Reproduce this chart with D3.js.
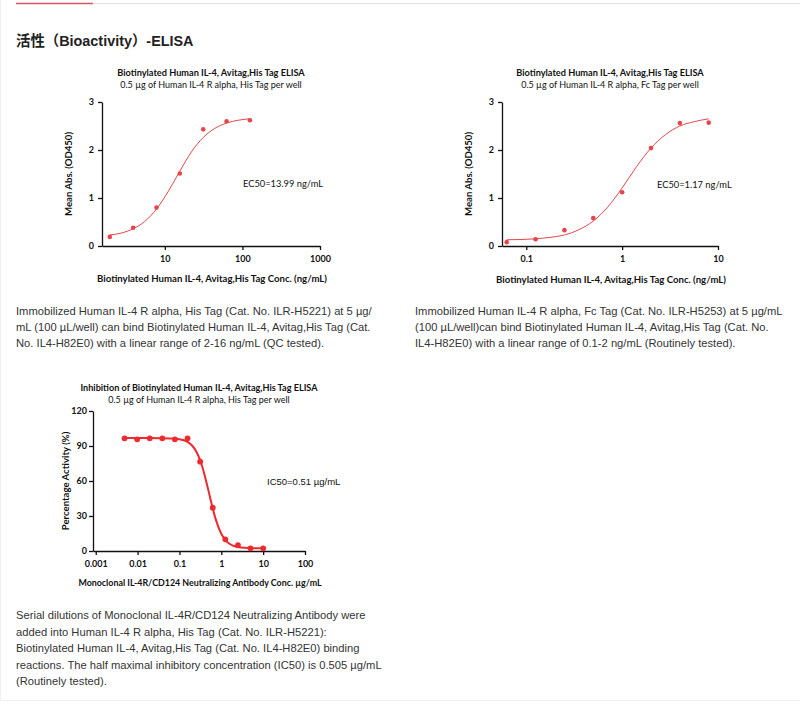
<!DOCTYPE html>
<html>
<head>
<meta charset="utf-8">
<script src="https://cdn.jsdelivr.net/npm/d3@7"></script>
<style>
  body { margin: 0; background: #fff; }
  svg { display: block; }
</style>
</head>
<body>
<svg width="800" height="707"></svg>
<script>
// ---- data ----
// chart 1: Human IL-4 R alpha, His Tag
const conc1 = [1.953, 3.906, 7.8125, 15.625, 31.25, 62.5, 125];
const od1 = [0.19, 0.38, 0.80, 1.51, 2.43, 2.60, 2.62];
const fitX1 = [1.953, 2.76, 3.906, 5.5, 7.8125, 11, 15.625, 22, 31.25, 44, 62.5, 88, 125];
const fitY1 = [0.23, 0.27, 0.36, 0.51, 0.77, 1.13, 1.56, 1.96, 2.26, 2.45, 2.56, 2.62, 2.65];

// chart 2: Human IL-4 R alpha, Fc Tag
const conc2 = [0.0625, 0.125, 0.25, 0.5, 1, 2, 4, 8];
const od2 = [0.08, 0.14, 0.33, 0.58, 1.12, 2.04, 2.56, 2.57];
const fitX2 = [0.0625, 0.088, 0.125, 0.177, 0.25, 0.354, 0.5, 0.707, 1, 1.41, 2, 2.83, 4, 5.66, 8];
const fitY2 = [0.13, 0.135, 0.15, 0.18, 0.23, 0.34, 0.52, 0.81, 1.21, 1.65, 2.04, 2.32, 2.50, 2.59, 2.65];

// chart 3: neutralizing antibody inhibition
const conc3 = [0.00488, 0.00977, 0.0195, 0.039, 0.078, 0.156, 0.3125, 0.625, 1.25, 2.5, 5, 10];
const act3 = [96.6, 95.7, 96.6, 96.6, 95.7, 96.6, 76.6, 37.1, 10.0, 5.1, 2.3, 2.3];
const fitX3 = [0.00488, 0.01, 0.02, 0.04, 0.08, 0.12, 0.16, 0.2, 0.25, 0.3, 0.35, 0.4, 0.45, 0.5,
               0.55, 0.6, 0.7, 0.8, 1.0, 1.25, 1.6, 2.0, 2.5, 3.5, 5, 7, 10];
const fitY3 = [96.8, 96.8, 96.8, 96.7, 96.3, 95.2, 93.3, 90.4, 85.5, 79.4, 72.4, 65.0, 57.7, 50.9,
               44.6, 39.0, 29.9, 23.2, 14.8, 9.4, 6.0, 4.3, 3.4, 2.7, 2.5, 2.4, 2.3];

const xTicks1 = [10, 100, 1000];
const xTicks2 = [0.1, 1, 10];
const xTicks3 = [0.001, 0.01, 0.1, 1, 10, 100];
const yTicksOD = [0, 1, 2, 3];
const yTicksAct = [0, 30, 60, 90, 120];

const para1 = ["Immobilized Human IL-4 R alpha, His Tag (Cat. No. ILR-H5221) at 5 µg/",
  "mL (100 µL/well) can bind Biotinylated Human IL-4, Avitag,His Tag (Cat.",
  "No. IL4-H82E0) with a linear range of 2-16 ng/mL (QC tested)."];
const para2 = ["Immobilized Human IL-4 R alpha, Fc Tag (Cat. No. ILR-H5253) at 5 µg/mL",
  "(100 µL/well)can bind Biotinylated Human IL-4, Avitag,His Tag (Cat. No.",
  "IL4-H82E0) with a linear range of 0.1-2 ng/mL (Routinely tested)."];
const para3 = ["Serial dilutions of Monoclonal IL-4R/CD124 Neutralizing Antibody were",
  "added into Human IL-4 R alpha, His Tag (Cat. No. ILR-H5221):",
  "Biotinylated Human IL-4, Avitag,His Tag (Cat. No. IL4-H82E0) binding",
  "reactions. The half maximal inhibitory concentration (IC50) is 0.505 µg/mL",
  "(Routinely tested)."];

const svg = d3.select("svg");
const chartFont = "Lato, 'Open Sans', sans-serif";
const bodyFont = "'Liberation Sans', Arial, sans-serif";

// page frame + header
svg.append("line").attr("x1", 16).attr("x2", 800).attr("y1", 3.5).attr("y2", 3.5)
  .attr("stroke", "#e2e2e2").attr("stroke-width", 1);
svg.append("line").attr("x1", 16).attr("x2", 93).attr("y1", 3.5).attr("y2", 3.5)
  .attr("stroke", "#d9566b").attr("stroke-width", 1.5);
svg.append("line").attr("x1", 0.5).attr("x2", 0.5).attr("y1", 0).attr("y2", 701)
  .attr("stroke", "#efefef");
svg.append("line").attr("x1", 0).attr("x2", 800).attr("y1", 700.5).attr("y2", 700.5)
  .attr("stroke", "#efefef");

svg.append("text").attr("x", 16).attr("y", 45.5)
  .style("font-family", "'Liberation Sans', Arial, 'Noto Sans CJK SC', sans-serif")
  .style("font-weight", "bold").style("font-size", "14.4px").attr("fill", "#222")
  .text("活性（Bioactivity）-ELISA");

function drawChart(cfg) {
  const g = svg.append("g");
  const x = d3.scaleLog().domain(cfg.xDomain).range(cfg.xRange);
  const y = d3.scaleLinear().domain(cfg.yDomain).range(cfg.yRange);
  const cx = (cfg.xRange[0] + cfg.xRange[1]) / 2;

  const xAxis = g.append("g")
    .attr("transform", `translate(0,${cfg.yRange[0]})`)
    .call(d3.axisBottom(x).tickValues(cfg.xTicks).tickSize(4).tickSizeOuter(0)
      .tickPadding(cfg.xPad).tickFormat(d => String(d)));
  const yAxis = g.append("g")
    .attr("transform", `translate(${cfg.xRange[0]},0)`)
    .call(d3.axisLeft(y).tickValues(cfg.yTicks).tickSize(4).tickSizeOuter(0)
      .tickPadding(cfg.yPad).tickFormat(d => String(d)));
  [xAxis, yAxis].forEach(a => {
    a.selectAll("path, line").attr("stroke", "#111").attr("stroke-width", 1.3);
    a.selectAll("text").style("font-family", chartFont).style("font-weight", "bold")
      .style("font-size", "9px").attr("fill", "#111");
  });

  // titles
  g.append("text").attr("x", cx).attr("y", cfg.titleY).attr("text-anchor", "middle")
    .style("font-family", chartFont).style("font-weight", "bold").style("font-size", cfg.titleSize)
    .attr("fill", "#111").text(cfg.title);
  g.append("text").attr("x", cx).attr("y", cfg.titleY + 12).attr("text-anchor", "middle")
    .style("font-family", chartFont).style("font-size", "9px")
    .attr("fill", "#111").text(cfg.subtitle);

  // axis labels
  g.append("text").attr("x", cx + 1).attr("y", cfg.xLabelY).attr("text-anchor", "middle")
    .style("font-family", chartFont).style("font-weight", "bold").style("font-size", cfg.xLabelSize)
    .attr("fill", "#111").text(cfg.xLabel);
  const ym = (cfg.yRange[0] + cfg.yRange[1]) / 2;
  g.append("text").attr("transform", `translate(${cfg.yLabelX},${ym}) rotate(-90)`)
    .attr("text-anchor", "middle")
    .style("font-family", chartFont).style("font-weight", "bold").style("font-size", "9.6px")
    .attr("fill", "#111").text(cfg.yLabel);

  // fitted curve
  const line = d3.line().x(d => x(d[0])).y(d => y(d[1])).curve(d3.curveMonotoneX);
  g.append("path").datum(d3.zip(cfg.fitX, cfg.fitY))
    .attr("fill", "none").attr("stroke", cfg.color).attr("stroke-width", cfg.lineW)
    .attr("d", line);

  // points
  g.selectAll("circle").data(d3.zip(cfg.xs, cfg.ys)).join("circle")
    .attr("cx", d => x(d[0])).attr("cy", d => y(d[1])).attr("r", cfg.r)
    .attr("fill", cfg.color);

  // annotation
  g.append("text").attr("x", cfg.noteX).attr("y", cfg.noteY)
    .style("font-family", cfg.noteFont).style("font-size", cfg.noteSize)
    .attr("fill", "#111").text(cfg.note);
}

drawChart({
  xDomain: [1.55, 1000], xRange: [102, 320], yDomain: [0, 3], yRange: [246, 102],
  xTicks: xTicks1, yTicks: yTicksOD, xPad: 6, yPad: 4,
  title: "Biotinylated Human IL-4, Avitag,His Tag ELISA", titleSize: "9.2px",
  subtitle: "0.5 µg of Human IL-4 R alpha, His Tag per well", titleY: 75.5,
  xLabel: "Biotinylated Human IL-4, Avitag,His Tag Conc. (ng/mL)", xLabelY: 281.5, xLabelSize: "9.6px",
  yLabel: "Mean Abs. (OD450)", yLabelX: 71.5,
  fitX: fitX1, fitY: fitY1, xs: conc1, ys: od1,
  color: "#e5454b", lineW: 1, r: 2.3,
  note: "EC50=13.99 ng/mL", noteX: 243, noteY: 186.5, noteFont: chartFont, noteSize: "9.3px"
});

drawChart({
  xDomain: [0.0558, 10], xRange: [502, 718], yDomain: [0, 3], yRange: [246, 102],
  xTicks: xTicks2, yTicks: yTicksOD, xPad: 6, yPad: 4,
  title: "Biotinylated Human IL-4, Avitag,His Tag ELISA", titleSize: "9.2px",
  subtitle: "0.5 µg of Human IL-4 R alpha, Fc Tag per well", titleY: 75.5,
  xLabel: "Biotinylated Human IL-4, Avitag,His Tag Conc. (ng/mL)", xLabelY: 282.5, xLabelSize: "9.6px",
  yLabel: "Mean Abs. (OD450)", yLabelX: 471.5,
  fitX: fitX2, fitY: fitY2, xs: conc2, ys: od2,
  color: "#e5454b", lineW: 1, r: 2.3,
  note: "EC50=1.17 ng/mL", noteX: 657, noteY: 188, noteFont: chartFont, noteSize: "9.3px"
});

drawChart({
  xDomain: [0.00086, 100], xRange: [93, 305], yDomain: [0, 120], yRange: [551, 411],
  xTicks: xTicks3, yTicks: yTicksAct, xPad: 6, yPad: 2,
  title: "Inhibition of Biotinylated Human IL-4, Avitag,His Tag ELISA", titleSize: "9.1px",
  subtitle: "0.5 µg of Human IL-4 R alpha, His Tag per well", titleY: 390.5,
  xLabel: "Monoclonal IL-4R/CD124 Neutralizing Antibody Conc. µg/mL", xLabelY: 586, xLabelSize: "8.9px",
  yLabel: "Percentage Activity (%)", yLabelX: 68.5,
  fitX: fitX3, fitY: fitY3, xs: conc3, ys: act3,
  color: "#ec2a2f", lineW: 2, r: 2.9,
  note: "IC50=0.51 µg/mL", noteX: 267, noteY: 484.5, noteFont: bodyFont, noteSize: "9.5px"
});

// description paragraphs
function para(lines, x, y0, lh) {
  const t = svg.append("text").style("font-family", bodyFont).style("font-size", "11.2px")
    .attr("fill", "#333");
  lines.forEach((s, i) => t.append("tspan").attr("x", x).attr("y", y0 + i * lh).text(s));
}
para(para1, 16, 315, 16);
para(para2, 415, 315, 16);
para(para3, 16, 619, 16.5);
</script>
</body>
</html>
